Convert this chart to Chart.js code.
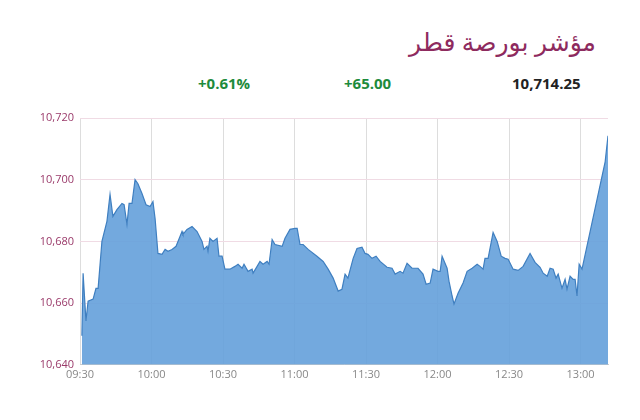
<!DOCTYPE html>
<html>
<head>
<meta charset="utf-8">
<script src="https://cdn.jsdelivr.net/npm/chart.js@4"></script>
<style>
  html, body { margin: 0; padding: 0; background: #fff; }
  #wrap { position: relative; width: 640px; height: 420px; font-family: "Open Sans", "Noto Sans", sans-serif; }
  #title { position: absolute; right: 44px; top: 24px; font-size: 25px; color: #8e2a5e; font-family: "Noto Sans", "DejaVu Sans", sans-serif; }
  .stat { position: absolute; top: 73px; font-size: 15px; font-weight: bold; }
  #pct { left: 198px; color: #1e8b3c; }
  #chg { left: 344px; color: #1e8b3c; }
  #last { left: 512px; color: #222; }
  canvas { position: absolute; left: 0; top: 0; }
</style>
</head>
<body>
<div id="wrap">
  <div id="title" dir="rtl">مؤشر بورصة قطر</div>
  <div class="stat" id="pct">+0.61%</div>
  <div class="stat" id="chg">+65.00</div>
  <div class="stat" id="last">10,714.25</div>
  <canvas id="c" width="640" height="420"></canvas>
</div>
<script>
/* ─── Data: minutes since 09:30 and index level ─── */
const minutes = [0.8, 1.3, 2.5, 3.4, 5.5, 6.7, 7.6, 9.2, 11.3, 12.6, 13.8, 15.5, 17.6, 18.5, 19.7, 20.6, 21.8, 23.1, 24.3, 26,
  27.7, 29.4, 30.6, 31.5, 32.7, 34.4, 35.7, 36.9, 38.6, 40.3, 42.8, 43.2, 44.9, 47, 49.1, 51.2, 52, 53.3, 53.7, 54.5,
  55.8, 57.5, 58.3, 59.6, 60.8, 62.9, 65, 66.3, 68, 68.8, 70.5, 72.2, 72.6, 74.3, 75.5, 76.8, 78.5, 79.3, 80.6, 81.8,
  84.8, 86, 88.1, 90.2, 91.1, 92.3, 93.6, 95.7, 99.4, 102, 104.1, 106.2, 108.3, 109.9, 111.2, 112.4, 114.6, 116.2, 118.3, 119.6,
  120.8, 122.5, 124.2, 125.9, 128.8, 130.9, 132.2, 134.3, 135.5, 137.2, 139.3, 141.8, 143.9, 145.2, 146.9, 148.1, 150.2, 151.1, 151.9, 154,
  154.8, 156.1, 156.9, 158.6, 160.7, 162.4, 164.5, 166.6, 167.8, 169.1, 169.9, 171.2, 173.3, 175, 176.7, 178.3, 179.6, 181.7, 183.8, 185.9,
  188.8, 190.9, 193, 194.3, 196, 197.2, 198.5, 199.7, 200.6, 202.2, 203.5, 204.3, 205.6, 206.9, 207.7, 208.5, 209.4, 210.6, 220.3, 221.5];
const levels = [10649.4, 10669.7, 10654.2, 10660.6, 10661.3, 10664.8, 10664.8, 10680, 10686.5, 10695.2, 10688.1, 10690.3, 10692.3, 10691.9, 10685.5, 10692.3, 10692.3, 10700, 10698.7, 10695.5,
  10691.9, 10691.3, 10692.9, 10687.4, 10676.1, 10675.8, 10677.4, 10676.8, 10677.4, 10678.4, 10683.2, 10682.3, 10683.9, 10684.8, 10683.2, 10680, 10677.4, 10678.4, 10676.8, 10681,
  10680, 10681, 10675.2, 10675.2, 10671, 10671, 10671.9, 10672.6, 10671.3, 10672.6, 10670.3, 10671, 10669.7, 10671.9, 10673.5, 10672.6, 10673.5, 10672.6, 10680.6, 10679,
  10678.4, 10681, 10683.9, 10684.2, 10684.2, 10679, 10679, 10677.4, 10675.2, 10673.5, 10671, 10668.1, 10663.9, 10664.5, 10669.4, 10668.1, 10674.5, 10677.7, 10678.1, 10676.1,
  10675.8, 10674.5, 10675.2, 10673.5, 10671.6, 10671.3, 10669.4, 10670.3, 10669.7, 10672.9, 10671.3, 10671.3, 10669.4, 10666.1, 10666.5, 10671, 10670.3, 10670.3, 10675.2, 10671.3,
  10667.1, 10662.3, 10659.7, 10663.2, 10666.5, 10670.3, 10671.3, 10672.6, 10671.9, 10671, 10674.5, 10674.5, 10682.9, 10680, 10675.2, 10674.5, 10674.2, 10671, 10670.6, 10671.9,
  10676.1, 10673.2, 10671.6, 10669.7, 10668.7, 10671.3, 10671, 10668.1, 10669.4, 10664.8, 10667.7, 10664.5, 10668.7, 10667.7, 10667.7, 10662.3, 10672.6, 10671, 10705.8, 10714.25];
const yTicks = [10640, 10660, 10680, 10700, 10720];
const xTicks = [0, 30, 60, 90, 120, 150, 180, 210];

function fmtTime(m) {
    const t = 9 * 60 + 30 + m;
    const h = Math.floor(t / 60), mm = t % 60;
    return String(h).padStart(2, '0') + ':' + String(mm).padStart(2, '0');
}

new Chart(document.getElementById('c'), {
    type: 'line',
    data: {
        datasets: [{
            data: minutes.map((m, i) => ({ x: m, y: levels[i] })),
            borderColor: '#3f7fc0',
            backgroundColor: 'rgba(100, 160, 218, 0.9)',
            borderWidth: 1.2,
            fill: 'start',
            pointRadius: 0,
            tension: 0
        }]
    },
    options: {
        responsive: false,
        animation: false,
        layout: { padding: { top: 118, left: 8, right: 32, bottom: 36 } },
        plugins: { legend: { display: false }, tooltip: { enabled: false } },
        scales: {
            x: {
                type: 'linear',
                min: 0,
                max: 221.5,
                afterBuildTicks: axis => { axis.ticks = xTicks.map(v => ({ value: v })); },
                ticks: {
                    color: '#888',
                    font: { size: 11, family: 'Open Sans' },
                    callback: v => fmtTime(v)
                },
                grid: { color: '#ddd', drawTicks: false },
                border: { color: '#ccc' }
            },
            y: {
                min: 10640,
                max: 10720,
                afterBuildTicks: axis => { axis.ticks = yTicks.map(v => ({ value: v })); },
                afterFit: axis => { axis.width = 72; },
                ticks: {
                    color: '#9a3a6a',
                    font: { size: 11, family: 'Open Sans' },
                    padding: 6,
                    callback: v => v.toLocaleString('en-US')
                },
                grid: { color: '#f0dbe4', drawTicks: false },
                border: { display: false }
            }
        }
    }
});
</script>
</body>
</html>
